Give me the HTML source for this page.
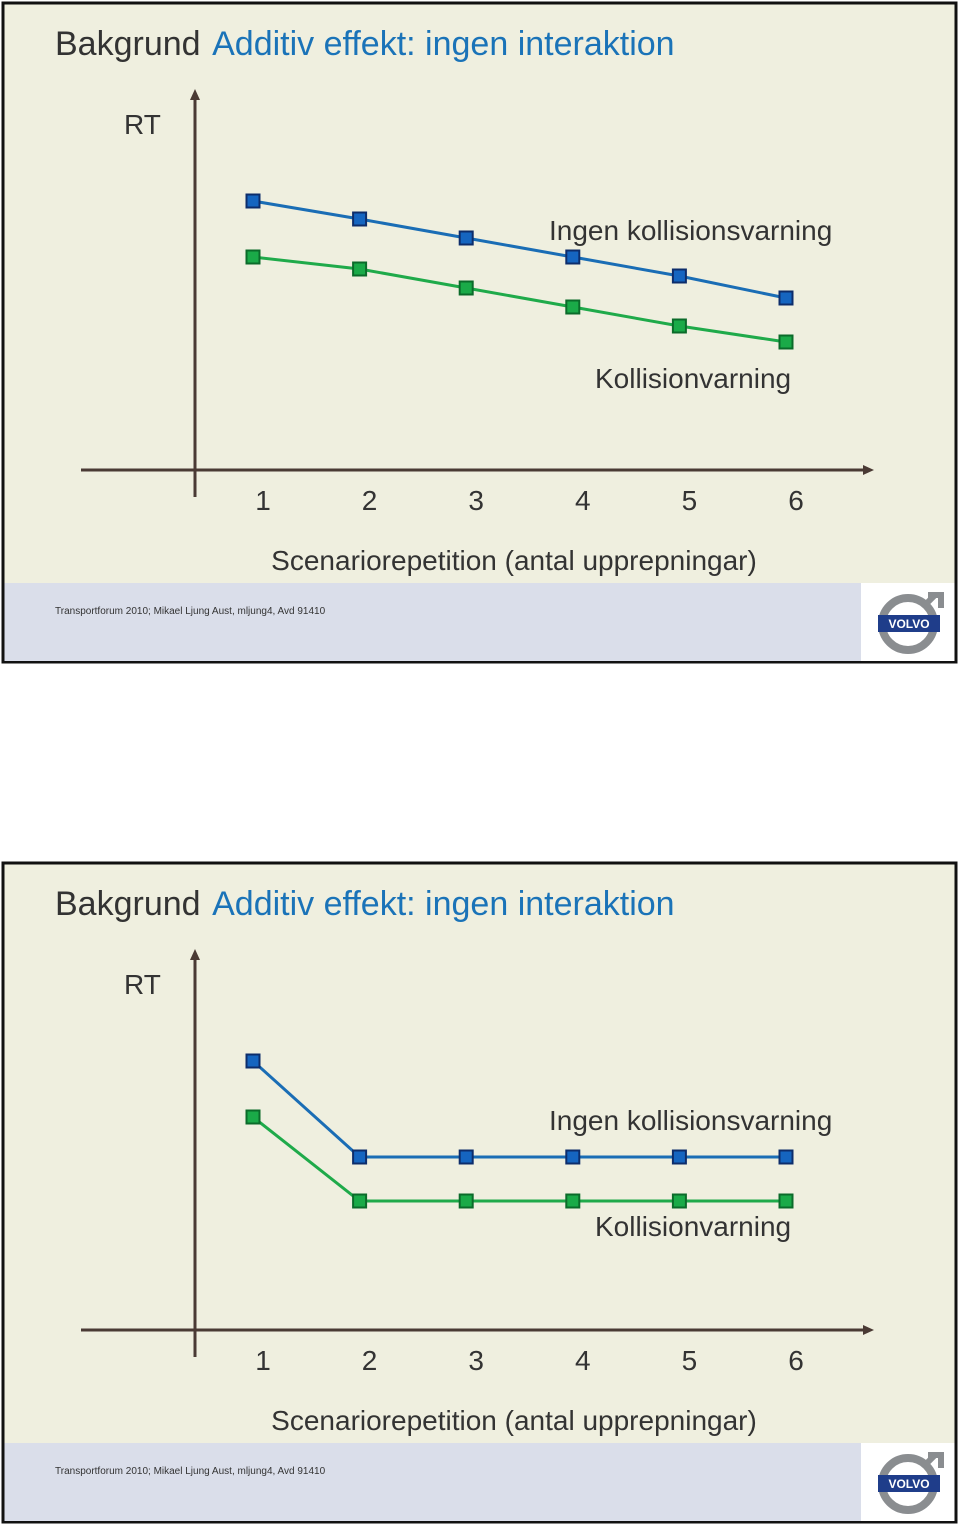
<!DOCTYPE html>
<html><head><meta charset="utf-8"><style>
html,body{margin:0;padding:0;background:#fff;width:960px;height:1529px;overflow:hidden}
svg text{font-family:"Liberation Sans",Arial,sans-serif}
</style></head><body>
<svg id="root" width="960" height="1529" viewBox="0 0 960 1529" xmlns="http://www.w3.org/2000/svg"></svg>
<script>
const categories = ["1","2","3","4","5","6"];
const slide1Blue = [26.9, 25.1, 23.2, 21.3, 19.4, 17.2];
const slide1Green = [21.3, 20.1, 18.2, 16.3, 14.4, 12.8];
const slide2Blue = [26.9, 17.3, 17.3, 17.3, 17.3, 17.3];
const slide2Green = [21.3, 12.9, 12.9, 12.9, 12.9, 12.9];
const seriesNames = ["Ingen kollisionsvarning", "Kollisionvarning"];

const NS = "http://www.w3.org/2000/svg";
const root = document.getElementById('root');
function mk(tag, attrs, parent, txt){
  const e = document.createElementNS(NS, tag);
  for (const k in attrs) e.setAttribute(k, attrs[k]);
  if (txt !== undefined) e.textContent = txt;
  parent.appendChild(e);
  return e;
}
function xScale(i){ return 253 + i * 106.6; }
function yScale(v, base){ return base + 470 - v * 10; }

function slide(off, blue, green, idx, lbl1y, lbl2y){
  const g = mk('g', {}, root);
  
  
  const bg = mk('rect', {x:3, y:off+3, width:953, height:659, fill:'#efefdf', stroke:'#111', 'stroke-width':3}, g);
  
  
  const ft = mk('rect', {x:4.5, y:off+583, width:857, height:78, fill:'#dadeea'}, g);
  
  
  mk('rect', {x:861, y:off+583, width:93.5, height:78, fill:'#ffffff'}, g);
  // logo
  const lg = mk('g', {}, g);
  
  
  mk('circle', {cx:908, cy:off+624, r:26, fill:'none', stroke:'#8a8d90', 'stroke-width':8}, lg);
  mk('path', {d:`M926 ${off+604} L934 ${off+596} M928 ${off+595} L941 ${off+595} L941 ${off+608}`, stroke:'#8a8d90', 'stroke-width':6, fill:'none'}, lg);
  mk('rect', {x:878, y:off+615, width:62, height:17, fill:'#1f3d8a'}, lg);
  mk('text', {x:909, y:off+628, 'text-anchor':'middle', 'font-size':12, 'font-weight':'bold', fill:'#fff', 'font-family':'"Liberation Serif",serif'}, lg, 'VOLVO');
  const fx = mk('text', {x:55, y:off+614, 'font-size':10, fill:'#333'}, g, 'Transportforum 2010; Mikael Ljung Aust, mljung4, Avd 91410');
  
  
  // title
  const t = mk('text', {x:55, y:off+55, 'font-size':34}, g);
  
  
  mk('tspan', {fill:'#333'}, t, 'Bakgrund ');
  mk('tspan', {fill:'#1a73b8', dx:4}, t, 'Additiv effekt: ingen interaktion');
  // axes
  const ya = mk('line', {x1:195, y1:off+497, x2:195, y2:off+97, stroke:'#4a3a34', 'stroke-width':3}, g);
  
  
  mk('path', {d:`M190 ${off+100} L195 ${off+89} L200 ${off+100} Z`, fill:'#4a3a34'}, g);
  const xa = mk('line', {x1:81, y1:off+470, x2:866, y2:off+470, stroke:'#4a3a34', 'stroke-width':3}, g);
  
  
  mk('path', {d:`M863 ${off+465} L874 ${off+470} L863 ${off+475} Z`, fill:'#4a3a34'}, g);
  const yt = mk('text', {x:124, y:off+134, 'font-size':28, fill:'#333'}, g, 'RT');
  
  
  categories.forEach((c, i) => {
    const tl = mk('text', {x:xScale(i)+10, y:off+510, 'font-size':28, fill:'#333', 'text-anchor':'middle'}, g, c);
    
    
  });
  const xt = mk('text', {x:514, y:off+570, 'font-size':28, fill:'#333', 'text-anchor':'middle'}, g, 'Scenariorepetition (antal upprepningar)');
  
  
  // series
  [[blue, '#1a6db5', '#1565c0', '#0d2d6b', 'series-ingen-kollisionsvarning'],
   [green, '#1faa4a', '#1aaa48', '#0b6b2a', 'series-kollisionvarning']].forEach(s => {
    const sg = mk('g', {}, g);
    
    
    const pts = s[0].map((v, i) => xScale(i) + ',' + yScale(v, off)).join(' ');
    const pl = mk('polyline', {points:pts, fill:'none', stroke:s[1], 'stroke-width':3}, sg);
    
    
    s[0].forEach((v, i) => {
      const r = mk('rect', {x:xScale(i)-6.5, y:yScale(v, off)-6.5, width:13, height:13, fill:s[2], stroke:s[3], 'stroke-width':2}, sg);
      
      
    });
  });
  const l1 = mk('text', {x:549, y:off+lbl1y, 'font-size':28, fill:'#333'}, g, seriesNames[0]);
  
  
  const l2 = mk('text', {x:595, y:off+lbl2y, 'font-size':28, fill:'#333'}, g, seriesNames[1]);
  
  
}
slide(0, slide1Blue, slide1Green, 1, 240, 388);
slide(860, slide2Blue, slide2Green, 2, 270, 376);
</script>
</body></html>
